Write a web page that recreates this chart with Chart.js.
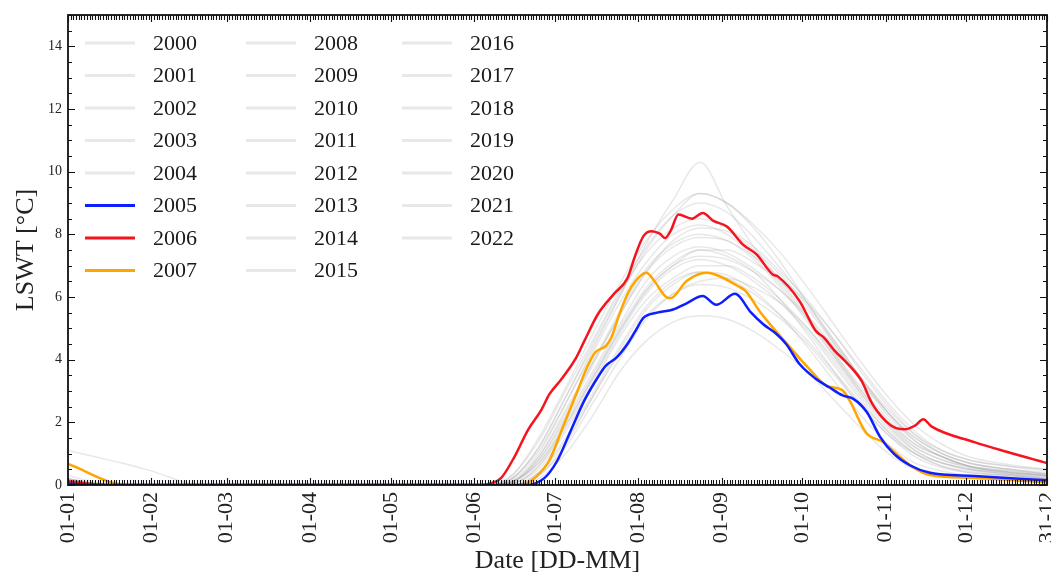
<!DOCTYPE html>
<html>
<head>
<meta charset="UTF-8">
<title>LSWT</title>
<style>
  html, body { margin: 0; padding: 0; background: #fff; }
  .wrap { width: 1051px; height: 577px; position: relative; }
</style>
</head>
<body>
<div class="wrap"><canvas id="lswtChart"></canvas></div>
<script src="https://cdn.jsdelivr.net/npm/chart.js"></script>
<script>
// ticks
const monthTicks = [0, 31, 59, 90, 120, 151, 181, 212, 243, 273, 304, 334, 364];
const monthLabels = ['01-01', '01-02', '01-03', '01-04', '01-05', '01-06', '01-07', '01-08', '01-09', '01-10', '01-11', '01-12', '31-12'];
const yTicks = [0, 2, 4, 6, 8, 10, 12, 14];

// highlighted years (day of year, LSWT)
const days2005 = [0, 8, 170, 177, 182, 187, 192, 197, 200, 204, 208, 211, 214, 219, 225, 230, 236, 241, 248, 254, 258.5, 263, 267, 272, 278, 283, 288, 292, 297, 302, 307, 313, 320.5, 337, 364];
const lswt2005 = [0.05, 0, 0, 0.21, 0.79, 1.75, 2.7, 3.44, 3.81, 4.07, 4.5, 4.92, 5.34, 5.5, 5.6, 5.8, 6.03, 5.75, 6.1, 5.5, 5.13, 4.85, 4.5, 3.86, 3.39, 3.12, 2.86, 2.75, 2.33, 1.53, 1.0, 0.63, 0.39, 0.29, 0.15];

const days2006 = [0, 14, 154, 157, 161, 166, 171, 176, 179, 183, 187, 189, 192, 197, 203, 208, 211, 214, 217, 220, 222, 224, 227, 232, 236, 240, 245, 251, 256, 262, 264, 272, 278, 281, 285, 290, 295, 299, 306, 311, 315, 318, 321, 337, 349, 364];
const lswt2006 = [0.12, 0, 0, 0.05, 0.22, 0.9, 1.75, 2.4, 2.9, 3.33, 3.8, 4.07, 4.6, 5.45, 6.1, 6.6, 7.35, 7.95, 8.1, 8.02, 7.88, 8.1, 8.63, 8.5, 8.68, 8.43, 8.25, 7.67, 7.36, 6.72, 6.65, 5.87, 4.92, 4.71, 4.29, 3.86, 3.33, 2.6, 1.9, 1.78, 1.9, 2.1, 1.87, 1.37, 1.06, 0.7];

const days2007 = [0, 22, 168, 170, 174, 179, 184, 189, 193, 196, 200, 202, 205, 208, 211, 215, 218, 222, 224, 230, 237.5, 242, 249, 252, 257, 262, 268, 275, 282, 288, 291, 294.5, 297, 303, 308, 314, 320.5, 337, 364];
const lswt2007 = [0.67, 0, 0, 0.03, 0.26, 0.79, 1.85, 2.91, 3.76, 4.23, 4.44, 4.71, 5.45, 6.09, 6.51, 6.77, 6.51, 6.03, 5.96, 6.51, 6.77, 6.67, 6.35, 6.19, 5.56, 5.03, 4.44, 3.76, 3.17, 3.02, 2.64, 2.0, 1.64, 1.37, 1.0, 0.58, 0.32, 0.23, 0.08];

// other years, shared day grid
const greyDays = [0, 10, 20, 31, 49, 100, 155, 165, 175, 185, 195, 205, 215, 225, 235, 245, 255, 265, 275, 285, 295, 305, 315, 325, 335, 350, 364];
const grey2000 = [0.15, 0.05, 0, 0, 0, 0, 0, 0.05, 0.6, 1.9, 3.4, 4.9, 6.2, 7.0, 7.5, 7.3, 6.8, 5.9, 4.8, 3.6, 2.5, 1.6, 1.0, 0.7, 0.5, 0.35, 0.25];
const grey2001 = [1.1, 0.9, 0.7, 0.45, 0, 0, 0, 0.1, 0.9, 2.4, 3.9, 5.4, 6.8, 7.6, 7.9, 7.8, 7.2, 6.3, 5.2, 4.1, 3.0, 2.0, 1.3, 0.9, 0.6, 0.4, 0.3];
const grey2002 = [0.3, 0.1, 0, 0, 0, 0, 0, 0, 0.3, 1.3, 2.8, 4.3, 5.6, 6.4, 6.8, 6.7, 6.2, 5.4, 4.4, 3.3, 2.2, 1.3, 0.7, 0.45, 0.3, 0.2, 0.1];
const grey2003 = [0.1, 0, 0, 0, 0, 0, 0, 0.2, 1.2, 2.8, 4.4, 6.0, 7.5, 8.6, 9.3, 9.0, 8.2, 7.1, 5.8, 4.5, 3.3, 2.3, 1.5, 1.0, 0.7, 0.5, 0.35];
const grey2004 = [0.05, 0, 0, 0, 0, 0, 0, 0, 0.2, 1.0, 2.2, 3.6, 4.6, 5.2, 5.4, 5.3, 4.9, 4.3, 3.6, 2.7, 1.8, 1.0, 0.5, 0.3, 0.2, 0.15, 0.1];
const grey2008 = [0.2, 0.05, 0, 0, 0, 0, 0, 0.1, 0.8, 2.1, 3.6, 5.1, 6.5, 7.3, 7.6, 7.4, 6.9, 6.2, 5.3, 4.2, 3.0, 2.0, 1.2, 0.8, 0.6, 0.45, 0.3];
const grey2009 = [0.1, 0, 0, 0, 0, 0, 0, 0.05, 0.5, 1.7, 3.2, 4.7, 5.9, 6.6, 7.0, 7.0, 6.6, 5.9, 5.0, 3.9, 2.8, 1.8, 1.1, 0.7, 0.5, 0.35, 0.2];
const grey2010 = [0, 0, 0, 0, 0, 0, 0, 0.3, 1.4, 3.0, 4.6, 6.2, 7.6, 8.6, 9.0, 8.7, 7.9, 6.9, 5.8, 4.6, 3.4, 2.3, 1.5, 1.0, 0.7, 0.5, 0.4];
const grey2011 = [0.2, 0.05, 0, 0, 0, 0, 0, 0.1, 0.7, 2.0, 3.5, 5.0, 6.3, 7.1, 7.5, 7.5, 7.1, 6.5, 5.6, 4.5, 3.4, 2.4, 1.6, 1.1, 0.8, 0.6, 0.5];
const grey2012 = [0.1, 0, 0, 0, 0, 0, 0, 0, 0.4, 1.5, 2.9, 4.4, 5.7, 6.5, 6.8, 6.6, 6.1, 5.4, 4.6, 3.6, 2.6, 1.7, 1.0, 0.6, 0.45, 0.3, 0.2];
const grey2013 = [0.05, 0, 0, 0, 0, 0, 0, 0.15, 1.0, 2.6, 4.2, 5.8, 7.1, 8.0, 8.3, 8.0, 7.3, 6.4, 5.3, 4.1, 2.9, 1.9, 1.2, 0.8, 0.55, 0.4, 0.3];
const grey2014 = [0.1, 0, 0, 0, 0, 0, 0, 0.2, 1.1, 2.6, 4.3, 6.0, 7.7, 9.1, 10.3, 8.9, 7.6, 6.5, 5.4, 4.2, 3.1, 2.1, 1.3, 0.9, 0.6, 0.45, 0.35];
const grey2015 = [0.2, 0.05, 0, 0, 0, 0, 0, 0, 0.3, 1.2, 2.6, 4.0, 5.3, 6.1, 6.5, 6.6, 6.3, 5.8, 5.0, 4.0, 2.9, 1.9, 1.1, 0.7, 0.5, 0.35, 0.25];
const grey2016 = [0.1, 0, 0, 0, 0, 0, 0, 0.1, 0.8, 2.2, 3.8, 5.4, 6.8, 7.8, 8.2, 8.1, 7.5, 6.7, 5.7, 4.6, 3.4, 2.3, 1.4, 0.9, 0.6, 0.4, 0.3];
const grey2017 = [0.15, 0.05, 0, 0, 0, 0, 0, 0.05, 0.6, 1.8, 3.3, 4.8, 6.1, 6.9, 7.2, 7.0, 6.5, 5.8, 4.9, 3.8, 2.7, 1.7, 1.0, 0.6, 0.4, 0.3, 0.2];
const grey2018 = [0, 0, 0, 0, 0, 0, 0, 0.2, 1.2, 2.8, 4.5, 6.1, 7.4, 8.2, 8.5, 8.2, 7.6, 6.8, 5.9, 4.8, 3.7, 2.6, 1.7, 1.1, 0.8, 0.6, 0.45];
const grey2019 = [0.1, 0, 0, 0, 0, 0, 0, 0.1, 0.7, 1.9, 3.4, 4.9, 6.2, 7.0, 7.3, 7.2, 6.8, 6.2, 5.4, 4.4, 3.3, 2.2, 1.4, 0.9, 0.6, 0.4, 0.3];
const grey2020 = [0.2, 0.05, 0, 0, 0, 0, 0, 0.1, 0.9, 2.3, 3.9, 5.5, 6.9, 7.7, 8.0, 7.8, 7.3, 6.6, 5.8, 4.8, 3.6, 2.5, 1.6, 1.0, 0.7, 0.5, 0.35];
const grey2021 = [0.1, 0, 0, 0, 0, 0, 0, 0, 0.4, 1.4, 2.8, 4.2, 5.4, 6.1, 6.4, 6.3, 5.9, 5.3, 4.5, 3.5, 2.5, 1.6, 0.9, 0.55, 0.4, 0.3, 0.2];
const grey2022 = [0.05, 0, 0, 0, 0, 0, 0, 0.3, 1.5, 3.1, 4.8, 6.4, 7.8, 8.8, 9.3, 9.0, 8.3, 7.4, 6.3, 5.1, 3.9, 2.8, 1.9, 1.3, 0.9, 0.65, 0.5];

const greySeries = [
  ['2000', grey2000], ['2001', grey2001], ['2002', grey2002], ['2003', grey2003], ['2004', grey2004],
  ['2008', grey2008], ['2009', grey2009], ['2010', grey2010], ['2011', grey2011], ['2012', grey2012],
  ['2013', grey2013], ['2014', grey2014], ['2015', grey2015], ['2016', grey2016], ['2017', grey2017],
  ['2018', grey2018], ['2019', grey2019], ['2020', grey2020], ['2021', grey2021], ['2022', grey2022]
];
const highlighted = [
  ['2005', days2005, lswt2005, '#0f1eff'],
  ['2006', days2006, lswt2006, '#f5141e'],
  ['2007', days2007, lswt2007, '#ffa500']
];
const legendYears = ['2000', '2001', '2002', '2003', '2004', '2005', '2006', '2007',
  '2008', '2009', '2010', '2011', '2012', '2013', '2014', '2015',
  '2016', '2017', '2018', '2019', '2020', '2021', '2022'];

const GREY = 'rgba(165, 165, 170, 0.26)';
const SERIF = "'Liberation Serif', 'DejaVu Serif', serif";

function toPoints(xs, ys) {
  return xs.map((d, i) => ({ x: d, y: ys[i] }));
}

const datasets = [];
greySeries.forEach(([label, vals]) => {
  datasets.push({
    label: label,
    data: toPoints(greyDays, vals),
    borderColor: GREY,
    borderWidth: 1.5,
    order: 1
  });
});
highlighted.forEach(([label, xs, ys, color]) => {
  datasets.push({
    label: label,
    data: toPoints(xs, ys),
    borderColor: color,
    borderWidth: 2.5,
    order: 0
  });
});

// frame with inward ticks (matplotlib style)
const frameTicks = {
  id: 'frameTicks',
  afterDatasetsDraw(chart) {
    const { ctx, chartArea: a, scales: { x, y } } = chart;
    ctx.save();
    ctx.strokeStyle = '#111';
    ctx.lineWidth = 1.1;
    ctx.beginPath();
    for (let d = 0; d <= 364; d++) {
      const px = Math.round(x.getPixelForValue(d)) + 0.5;
      const len = monthTicks.includes(d) ? 7 : 5;
      ctx.moveTo(px, a.bottom); ctx.lineTo(px, a.bottom - len);
      ctx.moveTo(px, a.top); ctx.lineTo(px, a.top + len);
    }
    for (let v = 0; v <= 15; v += 0.5) {
      const py = Math.round(y.getPixelForValue(v)) + 0.5;
      const len = yTicks.includes(v) ? 7 : 4;
      ctx.moveTo(a.left, py); ctx.lineTo(a.left + len, py);
      ctx.moveTo(a.right, py); ctx.lineTo(a.right - len, py);
    }
    ctx.stroke();
    ctx.lineWidth = 1.8;
    ctx.strokeRect(a.left, a.top, a.right - a.left, a.bottom - a.top);
    ctx.restore();
  }
};

// three-column legend, filled column by column
const columnLegend = {
  id: 'columnLegend',
  afterDraw(chart) {
    const { ctx } = chart;
    const colX = [85, 246, 402];
    ctx.save();
    ctx.font = '22px ' + SERIF;
    ctx.textBaseline = 'middle';
    legendYears.forEach((year, i) => {
      const ds = chart.data.datasets.find(d => d.label === year);
      const col = Math.floor(i / 8);
      const row = i % 8;
      const lx = colX[col];
      const ly = 43 + row * 32.5;
      ctx.strokeStyle = ds.borderColor;
      ctx.lineWidth = ds.order === 0 ? 2.8 : 3;
      ctx.beginPath();
      ctx.moveTo(lx, ly);
      ctx.lineTo(lx + 50, ly);
      ctx.stroke();
      ctx.fillStyle = '#1a1a1a';
      ctx.fillText(year, lx + 68, ly + 1);
    });
    ctx.restore();
  }
};

new Chart(document.getElementById('lswtChart'), {
  type: 'line',
  data: { datasets: datasets },
  options: {
    responsive: true,
    maintainAspectRatio: false,
    animation: false,
    layout: { padding: { top: 15, right: 4, left: 0, bottom: 0 } },
    elements: {
      point: { radius: 0 },
      line: { tension: 0, cubicInterpolationMode: 'monotone', borderCapStyle: 'round', borderJoinStyle: 'round' }
    },
    plugins: {
      legend: { display: false },
      tooltip: { enabled: false }
    },
    scales: {
      x: {
        type: 'linear',
        min: 0,
        max: 364,
        grid: { display: false, drawTicks: false },
        border: { display: false },
        afterBuildTicks: (scale) => { scale.ticks = monthTicks.map(v => ({ value: v })); },
        afterFit: (scale) => { scale.height = 92; scale.paddingLeft = 0; scale.paddingRight = 0; },
        ticks: {
          autoSkip: false,
          maxRotation: 90,
          minRotation: 90,
          padding: 7,
          color: '#222',
          font: { family: SERIF, size: 22 },
          callback: (v) => monthLabels[monthTicks.indexOf(v)]
        },
        title: {
          display: true,
          text: 'Date [DD-MM]',
          color: '#222',
          font: { family: SERIF, size: 26 },
          padding: { top: 0, bottom: 0 }
        }
      },
      y: {
        min: 0,
        max: 15,
        grid: { display: false, drawTicks: false },
        border: { display: false },
        afterBuildTicks: (scale) => { scale.ticks = yTicks.map(v => ({ value: v })); },
        afterFit: (scale) => { scale.width = 68; },
        ticks: {
          padding: 6,
          color: '#222',
          font: { family: SERIF, size: 14 }
        },
        title: {
          display: true,
          text: 'LSWT [°C]',
          color: '#222',
          font: { family: SERIF, size: 26 },
          padding: { top: 11, bottom: 0 }
        }
      }
    }
  },
  plugins: [frameTicks, columnLegend]
});
</script>
</body>
</html>
